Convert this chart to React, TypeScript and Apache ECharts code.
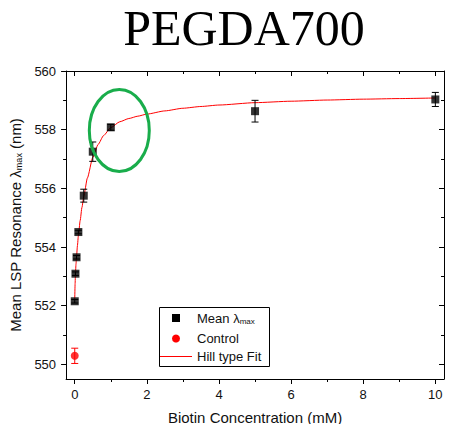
import React, { useEffect, useRef } from "react";
import * as echarts from "echarts";

// Mean resonance data (x = biotin concentration mM, y = λmax nm, err = ± nm)
const meanX = [0, 0.02, 0.05, 0.1, 0.25, 0.5, 1, 5, 10];
const meanY = [552.15, 553.09, 553.65, 554.51, 555.75, 557.25, 558.08, 558.63, 559.03];
const meanErr = [0.06, 0.06, 0.06, 0.06, 0.22, 0.33, 0.1, 0.37, 0.24];

const controlX = [0];
const controlY = [550.29];
const controlErr = [0.26];

// Hill type fit curve
const fitX = [0, 0.01, 0.02, 0.035, 0.05, 0.075, 0.1, 0.15, 0.2, 0.25, 0.35, 0.5, 0.65, 0.8, 1, 1.25, 1.5, 1.75, 2, 2.5, 3, 3.5, 4, 5, 6, 7, 8, 9, 10];
const fitY = [552.2, 552.75, 553.1, 553.42, 553.68, 554.05, 554.38, 554.9, 555.35, 555.72, 556.35, 557.05, 557.5, 557.8, 558.07, 558.27, 558.38, 558.46, 558.53, 558.64, 558.73, 558.79, 558.84, 558.92, 558.97, 559.01, 559.04, 559.06, 559.08];

const xMajor = [0, 2, 4, 6, 8, 10];
const xMinor = [1, 3, 5, 7, 9];
const yMajor = [550, 552, 554, 556, 558, 560];
const yMinor = [551, 553, 555, 557, 559];

const legendNames = ["Mean λmax", "Control", "Hill type Fit"];

const SANS = "Liberation Sans";

export default function App() {
  const ref = useRef<HTMLDivElement>(null);
  useEffect(() => {
    if (!ref.current) return;
    const chart = echarts.init(ref.current, undefined, { renderer: "svg" });

    const xMin = -0.24, xMax = 10.24, yMin = 549.5, yMax = 560;
    const lineCol = "#000";

    const baseX = (extra: any) => ({
      type: "value",
      min: xMin,
      max: xMax,
      splitLine: { show: false },
      ...extra,
    });
    const baseY = (extra: any) => ({
      type: "value",
      min: yMin,
      max: yMax,
      splitLine: { show: false },
      ...extra,
    });

    const errItem = (color: string) => (params: any, api: any) => {
      const x = api.value(0);
      const lo = api.value(1);
      const hi = api.value(2);
      const pHi = api.coord([x, hi]);
      const pLo = api.coord([x, lo]);
      const cw = 3.5;
      const st = { stroke: color, lineWidth: 1 };
      return {
        type: "group",
        children: [
          { type: "line", shape: { x1: pHi[0], y1: pHi[1], x2: pLo[0], y2: pLo[1] }, style: st },
          { type: "line", shape: { x1: pHi[0] - cw, y1: pHi[1], x2: pHi[0] + cw, y2: pHi[1] }, style: st },
          { type: "line", shape: { x1: pLo[0] - cw, y1: pLo[1], x2: pLo[0] + cw, y2: pLo[1] }, style: st },
        ],
      };
    };

    const legRich = {
      a: { fontFamily: SANS, fontSize: 13, fill: "#111" },
      s: { fontFamily: SANS, fontSize: 8, fill: "#111", padding: [6, 0, 0, 0] },
    };
    const lx = 159, ly = 307, lw = 110, lh = 59;
    const iconCx = 176, textX = 197;
    const rowY = [318, 338.5, 356];

    const legendGraphic = {
      type: "group",
      z: 50,
      children: [
        {
          type: "rect",
          shape: { x: lx + 0.5, y: ly + 0.5, width: lw, height: lh },
          style: { fill: "#fff", stroke: "#000", lineWidth: 1 },
        },
        {
          type: "rect",
          shape: { x: iconCx - 4, y: rowY[0] - 4, width: 8, height: 8 },
          style: { fill: "#000" },
        },
        {
          type: "circle",
          shape: { cx: iconCx, cy: rowY[1], r: 4 },
          style: { fill: "#ff0000" },
        },
        {
          type: "line",
          shape: { x1: 160, y1: rowY[2] + 0.5, x2: 192, y2: rowY[2] + 0.5 },
          style: { stroke: "#ff0000", lineWidth: 1 },
        },
        {
          type: "text",
          x: textX,
          y: rowY[0],
          style: { text: "{a|Mean λ}{s|max}", rich: legRich, verticalAlign: "middle", align: "left" },
        },
        {
          type: "text",
          x: textX,
          y: rowY[1],
          style: { text: legendNames[1], fontFamily: SANS, fontSize: 13, fill: "#111", verticalAlign: "middle", align: "left" },
        },
        {
          type: "text",
          x: textX,
          y: rowY[2],
          style: { text: legendNames[2], fontFamily: SANS, fontSize: 13, fill: "#111", verticalAlign: "middle", align: "left" },
        },
      ],
    };

    const option: any = {
      animation: false,
      backgroundColor: "#fff",
      grid: { left: 65, right: 18, top: 71, bottom: 53, containLabel: false },
      graphic: [
        {
          type: "text",
          x: 244,
          y: 3,
          style: {
            text: "PEGDA700",
            fontFamily: "Liberation Serif",
            fontSize: 50,
            fill: "#000",
            align: "center",
            verticalAlign: "top",
          },
        },
        {
          type: "ellipse",
          shape: { cx: 119.3, cy: 130.5, rx: 30, ry: 41 },
          style: { fill: "none", stroke: "#19ad4b", lineWidth: 3 },
          z: 100,
        },
        legendGraphic,
      ],
      xAxis: [
        baseX({
          position: "bottom",
          axisLine: { show: true, onZero: false, lineStyle: { color: lineCol, width: 1 } },
          axisTick: { show: true, inside: false, length: 5, customValues: xMajor, lineStyle: { color: lineCol } },
          axisLabel: { customValues: xMajor, margin: 9, color: "#111", fontFamily: SANS, fontSize: 13 },
          name: "Biotin Concentration (mM)",
          nameLocation: "middle",
          nameGap: 31,
          nameTextStyle: { color: "#111", fontFamily: SANS, fontSize: 15 },
        }),
        baseX({
          position: "bottom",
          axisLine: { show: false, onZero: false },
          axisTick: { show: true, inside: false, length: 3, customValues: xMinor, lineStyle: { color: lineCol } },
          axisLabel: { show: false },
        }),
        baseX({
          position: "top",
          axisLine: { show: true, onZero: false, lineStyle: { color: lineCol, width: 1 } },
          axisTick: { show: true, inside: true, length: 5, customValues: xMajor, lineStyle: { color: lineCol } },
          axisLabel: { show: false },
        }),
        baseX({
          position: "top",
          axisLine: { show: false, onZero: false },
          axisTick: { show: true, inside: true, length: 3, customValues: xMinor, lineStyle: { color: lineCol } },
          axisLabel: { show: false },
        }),
      ],
      yAxis: [
        baseY({
          position: "left",
          axisLine: { show: true, onZero: false, lineStyle: { color: lineCol, width: 1 } },
          axisTick: { show: true, inside: false, length: 5, customValues: yMajor, lineStyle: { color: lineCol } },
          axisLabel: { customValues: yMajor, margin: 10, color: "#111", fontFamily: SANS, fontSize: 13 },
          name: "{a|Mean LSP Resonance λ}{s|max}{a| (nm)}",
          nameLocation: "middle",
          nameGap: 37,
          nameTextStyle: {
            color: "#111",
            fontFamily: SANS,
            fontSize: 15,
            rich: {
              a: { fontFamily: SANS, fontSize: 15, color: "#111" },
              s: { fontFamily: SANS, fontSize: 9, color: "#111", padding: [7, 0, 0, 0] },
            },
          },
        }),
        baseY({
          position: "left",
          axisLine: { show: false, onZero: false },
          axisTick: { show: true, inside: false, length: 3, customValues: yMinor, lineStyle: { color: lineCol } },
          axisLabel: { show: false },
        }),
        baseY({
          position: "right",
          axisLine: { show: true, onZero: false, lineStyle: { color: lineCol, width: 1 } },
          axisTick: { show: true, inside: true, length: 5, customValues: yMajor, lineStyle: { color: lineCol } },
          axisLabel: { show: false },
        }),
        baseY({
          position: "right",
          axisLine: { show: false, onZero: false },
          axisTick: { show: true, inside: true, length: 3, customValues: yMinor, lineStyle: { color: lineCol } },
          axisLabel: { show: false },
        }),
      ],
      series: [
        {
          name: legendNames[2],
          type: "line",
          xAxisIndex: 0,
          yAxisIndex: 0,
          data: fitX.map((x, i) => [x, fitY[i]]),
          smooth: 0.2,
          smoothMonotone: "x",
          symbol: "none",
          lineStyle: { color: "#ff0000", width: 1 },
          itemStyle: { color: "#ff0000" },
          z: 3,
        },
        {
          name: "meanErr",
          type: "custom",
          xAxisIndex: 0,
          yAxisIndex: 0,
          renderItem: errItem("#000"),
          data: meanX.map((x, i) => [x, meanY[i] - meanErr[i], meanY[i] + meanErr[i]]),
          z: 4,
        },
        {
          name: "controlErr",
          type: "custom",
          xAxisIndex: 0,
          yAxisIndex: 0,
          renderItem: errItem("#ff0000"),
          data: controlX.map((x, i) => [x, controlY[i] - controlErr[i], controlY[i] + controlErr[i]]),
          z: 4,
        },
        {
          name: legendNames[0],
          type: "scatter",
          xAxisIndex: 0,
          yAxisIndex: 0,
          symbol: "rect",
          symbolSize: 8,
          itemStyle: { color: "#000" },
          data: meanX.map((x, i) => [x, meanY[i]]),
          z: 5,
        },
        {
          name: legendNames[1],
          type: "scatter",
          xAxisIndex: 0,
          yAxisIndex: 0,
          symbol: "circle",
          symbolSize: 8,
          itemStyle: { color: "#ff0000" },
          data: controlX.map((x, i) => [x, controlY[i]]),
          z: 5,
        },
      ],
    };
    chart.setOption(option);
    return () => chart.dispose();
  }, []);
  return <div ref={ref} style={{ width: 462, height: 432, margin: -8 }} />;
}
